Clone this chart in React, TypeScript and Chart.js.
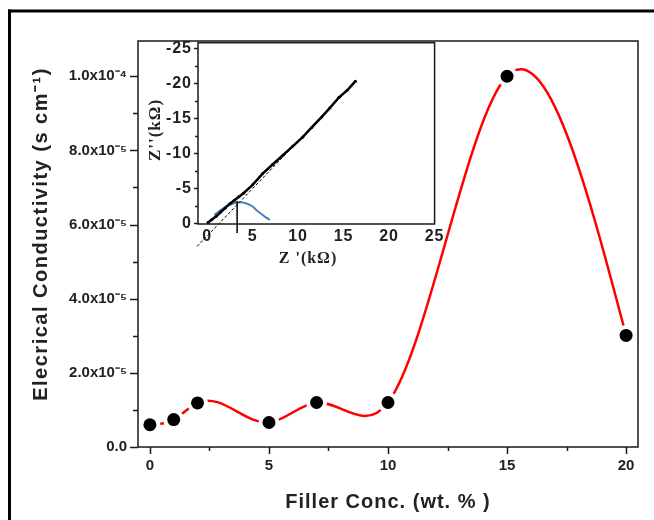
import React, { useEffect, useRef } from 'react';
import { Chart, registerables } from 'chart.js';

Chart.register(...registerables);

// ---------- main chart data ----------
const fillerConc = [0, 1, 2, 5, 7, 10, 15, 20];
const conductivity = [0.6e-5, 0.74e-5, 1.19e-5, 0.66e-5, 1.2e-5, 1.2e-5, 1.0e-4, 3.01e-5];

const xMajorTicks = [0, 5, 10, 15, 20];
const xMinorTicks = [2.5, 7.5, 12.5, 17.5];
const yMajorTicks = [0, 2e-5, 4e-5, 6e-5, 8e-5, 1e-4];
const yTickLabels = ['0.0', '2.0x10⁻⁵', '4.0x10⁻⁵', '6.0x10⁻⁵', '8.0x10⁻⁵', '1.0x10⁻⁴'];
const yMinorTicks = [1e-5, 3e-5, 5e-5, 7e-5, 9e-5];

const xTitle = 'Filler Conc. (wt. % )';
const yTitle = 'Elecrical Conductivity (s cm⁻¹)';

// ---------- inset (Nyquist) data ----------
const zReal = [0.1, 0.5, 1.0, 1.5, 2.0, 2.5, 3.0, 3.5, 4.0, 5.0, 6.1, 7.2, 8.3, 9.4, 10.5, 11.5, 12.6, 13.5, 14.5, 15.4, 16.3];
const zImag = [-0.1, -0.5, -1.0, -1.6, -2.2, -2.8, -3.3, -3.8, -4.3, -5.5, -7.1, -8.4, -9.7, -11.0, -12.3, -13.7, -15.2, -16.5, -18.0, -19.0, -20.3];
const fitReal = [-1.1, 16.4];
const fitImag = [3.3, -20.4];
const arcReal = [0.8, 1.5, 2.1, 2.8, 3.6, 4.4, 5.0, 5.4, 6.0, 6.5, 6.9];
const arcImag = [-1.2, -1.9, -2.4, -2.8, -3.0, -2.8, -2.4, -1.9, -1.3, -0.8, -0.5];
const markReal = [3.3, 3.3];
const markImag = [-3.2, 1.4];

const insetXTicks = [0, 5, 10, 15, 20, 25];
const insetYTicks = [0, -5, -10, -15, -20, -25];
const insetYMinor = [-2.5, -7.5, -12.5, -17.5, -22.5];
const insetXTitle = "Z '(kΩ)";
const insetYTitle = "Z''(kΩ)";

const SANS = '"Liberation Sans", Arial, sans-serif';
const SERIF = '"Liberation Serif", "Times New Roman", serif';

const toXY = (xs: number[], ys: number[]) => xs.map((x, i) => ({ x, y: ys[i] }));

const zeroPad = (s: any) => {
  s.paddingTop = 0;
  s.paddingBottom = 0;
  s.paddingLeft = 0;
  s.paddingRight = 0;
};

// Smooth the red line as a natural cubic spline through the data (as Origin does),
// by setting the bezier control points of the library's own line element.
const naturalSpline = {
  id: 'naturalSpline',
  beforeDatasetDraw(chart: any, args: any) {
    const meta = args.meta;
    const ds = chart.data.datasets[args.index];
    if (!ds || !ds.splineLine || !meta.dataset) return;
    const pts = meta.data;
    const n = pts.length;
    if (n < 3) return;
    const xs = pts.map((p: any) => p.x);
    const ys = pts.map((p: any) => p.y);
    const h: number[] = [];
    const d: number[] = [];
    for (let i = 0; i < n - 1; i++) {
      h[i] = xs[i + 1] - xs[i];
      d[i] = (ys[i + 1] - ys[i]) / h[i];
    }
    const M = new Array(n).fill(0);
    const a: number[] = [];
    const b: number[] = [];
    const c: number[] = [];
    const r: number[] = [];
    for (let i = 1; i < n - 1; i++) {
      a[i] = h[i - 1];
      b[i] = 2 * (h[i - 1] + h[i]);
      c[i] = h[i];
      r[i] = 6 * (d[i] - d[i - 1]);
    }
    for (let i = 2; i < n - 1; i++) {
      const w = a[i] / b[i - 1];
      b[i] -= w * c[i - 1];
      r[i] -= w * r[i - 1];
    }
    for (let i = n - 2; i >= 1; i--) {
      M[i] = (r[i] - c[i] * M[i + 1]) / b[i];
    }
    for (let i = 0; i < n - 1; i++) {
      const s0 = d[i] - (h[i] * (2 * M[i] + M[i + 1])) / 6;
      const s1 = d[i] + (h[i] * (M[i] + 2 * M[i + 1])) / 6;
      pts[i].cp2x = xs[i] + h[i] / 3;
      pts[i].cp2y = ys[i] + (s0 * h[i]) / 3;
      pts[i + 1].cp1x = xs[i + 1] - h[i] / 3;
      pts[i + 1].cp1y = ys[i + 1] - (s1 * h[i]) / 3;
    }
    pts[0].cp1x = xs[0];
    pts[0].cp1y = ys[0];
    pts[n - 1].cp2x = xs[n - 1];
    pts[n - 1].cp2y = ys[n - 1];
    meta.dataset._pointsUpdated = true;
    meta.dataset._path = undefined;
  },
};

const mainDecor = {
  id: 'mainDecor',
  afterDraw(chart: any) {
    const { ctx, chartArea: a, scales } = chart;
    const xs = scales.x;
    const ys = scales.y;
    ctx.save();
    // outer frame (top & left)
    ctx.fillStyle = '#000';
    ctx.fillRect(8, 9.5, 646, 3);
    ctx.fillRect(8, 9.5, 3, 511);
    // plot box
    ctx.strokeStyle = '#1a1a1a';
    ctx.lineWidth = 1.5;
    ctx.strokeRect(a.left, a.top, a.right - a.left, a.bottom - a.top);
    // ticks
    ctx.beginPath();
    xMajorTicks.forEach((v) => {
      const p = Math.round(xs.getPixelForValue(v)) + 0.5;
      ctx.moveTo(p, a.bottom);
      ctx.lineTo(p, a.bottom + 7);
    });
    xMinorTicks.forEach((v) => {
      const p = Math.round(xs.getPixelForValue(v)) + 0.5;
      ctx.moveTo(p, a.bottom);
      ctx.lineTo(p, a.bottom + 4);
    });
    yMajorTicks.forEach((v) => {
      const p = Math.round(ys.getPixelForValue(v)) + 0.5;
      ctx.moveTo(a.left, p);
      ctx.lineTo(a.left - 8, p);
    });
    yMinorTicks.forEach((v) => {
      const p = Math.round(ys.getPixelForValue(v)) + 0.5;
      ctx.moveTo(a.left, p);
      ctx.lineTo(a.left - 5, p);
    });
    ctx.stroke();
    // axis titles
    ctx.fillStyle = '#222';
    ctx.font = `bold 20px ${SANS}`;
    ctx.textAlign = 'center';
    ctx.textBaseline = 'alphabetic';
    (ctx as any).letterSpacing = '1px';
    ctx.fillText(xTitle, 388, 508);
    (ctx as any).letterSpacing = '1.5px';
    ctx.translate(47, 234);
    ctx.rotate(-Math.PI / 2);
    ctx.fillText(yTitle, 0, 0);
    ctx.restore();
  },
};

const insetDecor = {
  id: 'insetDecor',
  beforeDraw(chart: any) {
    (chart.ctx as any).letterSpacing = '1px';
  },
  afterDraw(chart: any) {
    const { ctx, chartArea: a, scales } = chart;
    const ys = scales.y;
    ctx.save();
    (ctx as any).letterSpacing = '0px';
    ctx.strokeStyle = '#1a1a1a';
    ctx.lineWidth = 1.5;
    ctx.strokeRect(a.left, a.top, a.right - a.left, a.bottom - a.top);
    ctx.beginPath();
    insetYTicks.forEach((v) => {
      const p = Math.round(ys.getPixelForValue(v)) + 0.5;
      ctx.moveTo(a.left, p);
      ctx.lineTo(a.left - 4, p);
    });
    insetYMinor.forEach((v) => {
      const p = Math.round(ys.getPixelForValue(v)) + 0.5;
      ctx.moveTo(a.left, p);
      ctx.lineTo(a.left - 3, p);
    });
    ctx.stroke();
    ctx.fillStyle = '#222';
    ctx.font = `bold 16px ${SERIF}`;
    ctx.textAlign = 'center';
    ctx.textBaseline = 'alphabetic';
    (ctx as any).letterSpacing = '1px';
    ctx.fillText(insetXTitle, 178, 228);
    ctx.translate(30, 95);
    ctx.rotate(-Math.PI / 2);
    ctx.font = `bold 17px ${SERIF}`;
    ctx.fillText(insetYTitle, 0, 0);
    ctx.restore();
  },
};

export default function App() {
  const mainRef = useRef<HTMLCanvasElement>(null);
  const insetRef = useRef<HTMLCanvasElement>(null);

  useEffect(() => {
    const tickFont = { family: SANS, size: 15, weight: 'bold' as const };
    const points = toXY(fillerConc, conductivity);
    const main = new Chart(mainRef.current as HTMLCanvasElement, {
      type: 'line',
      data: {
        datasets: [
          {
            label: 'points',
            data: points,
            showLine: false,
            pointRadius: 6.5,
            pointHoverRadius: 6.5,
            pointBackgroundColor: '#000',
            pointBorderWidth: 0,
          },
          {
            label: 'gaps',
            data: points,
            showLine: false,
            pointRadius: 10.5,
            pointHoverRadius: 10.5,
            pointBackgroundColor: '#fff',
            pointBorderWidth: 0,
          },
          {
            label: 'conductivity',
            splineLine: true,
            data: points,
            borderColor: '#ff0000',
            borderWidth: 2.5,
            tension: 0.4,
            pointRadius: 0,
            fill: false,
          } as any,
        ],
      },
      options: {
        responsive: false,
        animation: false,
        events: [],
        layout: { padding: { top: 41, right: 16, bottom: 0, left: 10 } },
        plugins: { legend: { display: false }, tooltip: { enabled: false } },
        scales: {
          x: {
            type: 'linear',
            min: -0.5,
            max: 20.5,
            grid: { display: false, drawTicks: false },
            border: { display: false },
            afterBuildTicks: (s: any) => {
              s.ticks = xMajorTicks.map((value) => ({ value }));
            },
            afterFit: (s: any) => {
              s.height = 73;
              zeroPad(s);
            },
            ticks: {
              autoSkip: false,
              maxRotation: 0,
              padding: 10,
              color: '#222',
              font: tickFont,
              callback: (v: any) => String(v),
            },
          },
          y: {
            type: 'linear',
            min: 0,
            max: 1.095e-4,
            grid: { display: false, drawTicks: false },
            border: { display: false },
            afterBuildTicks: (s: any) => {
              s.ticks = yMajorTicks.map((value) => ({ value }));
            },
            afterFit: (s: any) => {
              s.width = 128;
              zeroPad(s);
            },
            ticks: {
              autoSkip: false,
              padding: 11,
              color: '#222',
              font: tickFont,
              callback: (_v: any, i: number) => yTickLabels[i],
            },
          },
        },
      },
      plugins: [naturalSpline, mainDecor],
    });

    const insetTickFont = { family: SANS, size: 16, weight: 'bold' as const };
    const inset = new Chart(insetRef.current as HTMLCanvasElement, {
      type: 'line',
      data: {
        datasets: [
          {
            label: 'measured',
            data: toXY(zReal, zImag),
            borderColor: '#000',
            borderWidth: 2.5,
            tension: 0,
            pointRadius: 1.5,
            pointBackgroundColor: '#000',
            pointBorderColor: '#000',
            pointBorderWidth: 0,
          },
          {
            label: 'fit',
            data: toXY(fitReal, fitImag),
            borderColor: '#000',
            borderWidth: 1,
            borderDash: [3, 2],
            pointRadius: 0,
            clip: false as any,
          },
          {
            label: 'marker',
            data: toXY(markReal, markImag),
            borderColor: '#000',
            borderWidth: 1.5,
            pointRadius: 0,
            clip: false as any,
          },
          {
            label: 'arc',
            data: toXY(arcReal, arcImag),
            borderColor: '#4a7ec1',
            borderWidth: 2,
            tension: 0.4,
            pointRadius: 0,
          },
        ],
      },
      options: {
        responsive: false,
        animation: false,
        events: [],
        layout: { padding: { top: 7.7, right: 15.4, bottom: 0, left: 0 } },
        plugins: { legend: { display: false }, tooltip: { enabled: false } },
        scales: {
          x: {
            type: 'linear',
            min: -1,
            max: 25,
            grid: { display: false, drawTicks: false },
            border: { display: false },
            afterBuildTicks: (s: any) => {
              s.ticks = insetXTicks.map((value) => ({ value }));
            },
            afterFit: (s: any) => {
              s.height = 56;
              zeroPad(s);
            },
            ticks: {
              autoSkip: false,
              maxRotation: 0,
              padding: 3,
              color: '#222',
              font: insetTickFont,
              callback: (v: any) => String(v),
            },
          },
          y: {
            type: 'linear',
            reverse: true,
            min: -25.8,
            max: 0.1,
            grid: { display: false, drawTicks: false },
            border: { display: false },
            afterBuildTicks: (s: any) => {
              s.ticks = insetYTicks.map((value) => ({ value }));
            },
            afterFit: (s: any) => {
              s.width = 68;
              zeroPad(s);
            },
            ticks: {
              autoSkip: false,
              padding: 6,
              color: '#222',
              font: insetTickFont,
              callback: (v: any) => String(v),
            },
          },
        },
      },
      plugins: [insetDecor],
    });

    return () => {
      main.destroy();
      inset.destroy();
    };
  }, []);

  return (
    <div style={{ position: 'absolute', left: 0, top: 0, width: 654, height: 520, background: '#fff', overflow: 'hidden' }}>
      <canvas ref={mainRef} width={654} height={520} style={{ position: 'absolute', left: 0, top: 0, width: 654, height: 520 }} />
      <canvas ref={insetRef} width={320} height={245} style={{ position: 'absolute', left: 130, top: 35, width: 320, height: 245 }} />
    </div>
  );
}
